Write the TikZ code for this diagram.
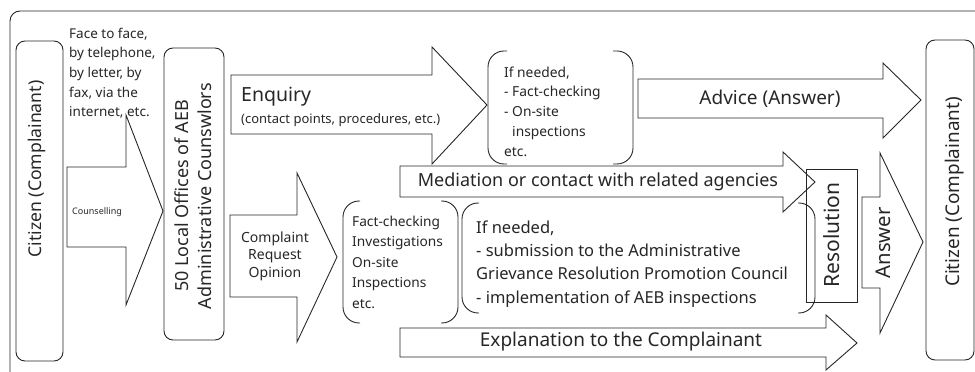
\documentclass[tikz,border=0pt]{standalone}
\usepackage{fontspec}
\setmainfont{Noto Sans}
\newcommand{\fs}[2]{\fontsize{#1}{#2}\selectfont}
\begin{document}
\begin{tikzpicture}[x=1pt,y=1pt,
  ln/.style={draw=black!85, line width=0.9pt},
  box/.style={ln, rounded corners=9pt},
  brk/.style={ln, rounded corners=16pt},
  txt/.style={inner sep=0pt, text=black!85}]
\useasboundingbox (0,0) rectangle (975,372);
% outer frame
\draw[ln, rounded corners=10pt] (10,-10) rectangle (990,361);
% left citizen
\draw[box] (16,331) rectangle (63,11);
\node[txt, rotate=90, font=\fs{17.6}{19}] (cit1) at (37,203) {Citizen (Complainant)};
% face to face text
\node[txt, anchor=north west, align=left, font=\fs{13.5}{19.7}] (face) at (69,344.5)
  {Face to face,\\by telephone,\\by letter, by\\fax, via the\\internet, etc.};
% counselling arrow
\draw[ln] (67,205) -- (126,205) -- (126,257) -- (163,161) -- (126,67) -- (126,125) -- (67,125) -- cycle;
\node[txt, anchor=west, font=\fs{9}{11}] (couns) at (72,160) {Counselling};
% AEB box
\draw[box] (164,324) rectangle (224,32);
\node[txt, rotate=90, align=center, font=\fs{18}{23}] (aeb) at (193.5,176)
  {50 Local Offices of AEB\\Administrative Counswlors};
% Enquiry arrow
\draw[ln] (231,297) -- (432,297) -- (432,325) -- (487,267) -- (432,208) -- (432,238) -- (231,238) -- cycle;
\node[txt, anchor=west, font=\fs{19.5}{22}] (enq) at (241,275) {Enquiry};
\node[txt, anchor=west, font=\fs{13}{14}] (enq2) at (241,252) {(contact points, procedures, etc.)};
% top if-needed bracket
\draw[brk] (507,321) -- (488,321) -- (488,208) -- (507,208);
\draw[brk] (613,321) -- (633,321) -- (633,208) -- (613,208);
\node[txt, anchor=north west, align=left, font=\fs{13.8}{19.75}] (ifn1) at (504,305.6)
  {If needed,\\- Fact-checking\\- On-site\\\phantom{- }inspections\\etc.};
% Advice arrow
\draw[ln] (638,293) -- (883,293) -- (883,309) -- (921,272) -- (883,234) -- (883,254) -- (638,254) -- cycle;
\node[txt, font=\fs{19}{21}] (adv) at (770,273) {Advice (Answer)};
% Mediation arrow
\draw[ln] (400,206) -- (783,206) -- (783,220) -- (815,190) -- (783,160) -- (783,175) -- (400,175) -- cycle;
\node[txt, font=\fs{18}{20}] (med) at (598,190) {Mediation or contact with related agencies};
% Complaint arrow
\draw[ln] (230,157) -- (297,157) -- (297,199) -- (337,115) -- (297,30) -- (297,75) -- (230,75) -- cycle;
\node[txt, align=center, font=\fs{14}{17.5}] (comp) at (275,116) {Complaint\\Request\\Opinion};
% Fact-checking bracket
\draw[brk] (360,171) -- (343,171) -- (343,49) -- (360,49);
\draw[brk] (441,171) -- (458,171) -- (458,49) -- (441,49);
\node[txt, anchor=north west, align=left, font=\fs{13.7}{20.5}] (fact) at (352,156.5)
  {Fact-checking\\Investigations\\On-site\\Inspections\\etc.};
% big if-needed bracket
\draw[brk] (479,169) -- (462,169) -- (462,59) -- (479,59);
\draw[brk] (798,169) -- (815,169) -- (815,59) -- (798,59);
\node[txt, anchor=north west, align=left, font=\fs{16.5}{23.3}] (ifn2) at (476,151.6)
  {If needed,\\- submission to the Administrative\\Grievance Resolution Promotion Council\\- implementation of AEB inspections};
% Explanation arrow
\draw[ln] (400,44) -- (826,44) -- (826,57) -- (857,29) -- (826,2) -- (826,15) -- (400,15) -- cycle;
\node[txt, font=\fs{19}{21}] (expl) at (621,30) {Explanation to the Complainant};
% Resolution box
\draw[ln] (806,203) rectangle (857,70);
\node[txt, rotate=90, font=\fs{21}{24}] (res) at (832,137) {Resolution};
% Answer arrow
\draw[ln] (862,175) -- (880,175) -- (880,219) -- (923,130) -- (880,39) -- (880,84) -- (862,84) -- cycle;
\node[txt, rotate=90, font=\fs{20.3}{24}] (ans) at (883,129) {Answer};
% right citizen
\draw[box] (926,332) rectangle (974,12);
\node[txt, rotate=90, font=\fs{18.9}{20}] (cit2) at (955,180) {Citizen (Complainant)};
\end{tikzpicture}
\end{document}
